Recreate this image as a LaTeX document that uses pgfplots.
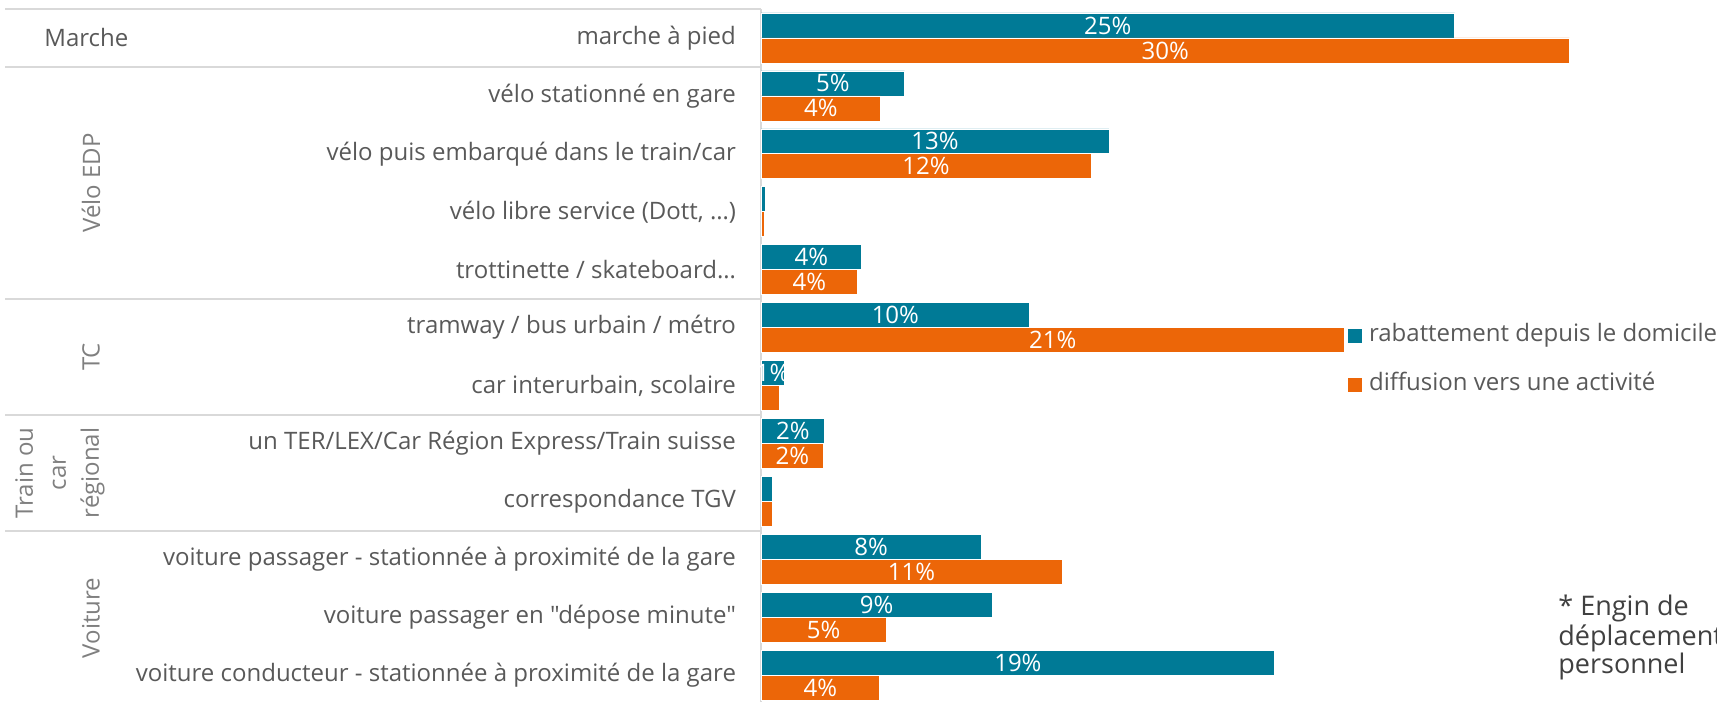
\documentclass[border=0pt]{standalone}
\usepackage{pgfplots}
\pgfplotsset{compat=1.18}
\usepackage{pgfplotstable}
\usepackage{fontspec}
\setmainfont[Ligatures=TeXOff]{Open Sans}
\definecolor{tealc}{RGB}{0,122,150}
\definecolor{orangec}{RGB}{236,102,8}
\definecolor{labgray}{RGB}{89,89,89}
\definecolor{grpgray}{RGB}{127,127,127}
\definecolor{linegray}{RGB}{217,217,217}
\definecolor{notegray}{RGB}{64,64,64}
\newcommand\fs{\fontsize{12pt}{14.5pt}\selectfont}
\newcommand\fn{\fontsize{13.5pt}{15pt}\selectfont}

% rabattement depuis le domicile
\pgfplotstableread{
y v lab
11 25.5 25\%
10 5.28 5\%
9 12.79 13\%
8 0.15 {}
7 3.70 4\%
6 9.88 10\%
5 0.86 1\%
4 2.34 2\%
3 0.41 {}
2 8.09 8\%
1 8.51 9\%
0 18.89 19\%
}\tealdata

% diffusion vers une activite
\pgfplotstableread{
y v lab
11 29.72 30\%
10 4.40 4\%
9 12.14 12\%
8 0.13 {}
7 3.55 4\%
6 21.45 21\%
5 0.66 {}
4 2.30 2\%
3 0.41 {}
2 11.07 11\%
1 4.61 5\%
0 4.36 4\%
}\orangedata

\begin{document}
\begin{tikzpicture}
\useasboundingbox (0,0) rectangle (858.5pt,-350.5pt);
% group separators
\foreach \yy in {4.5,33.5,149.5,207.5,265.5}{
  \draw[linegray, line width=1pt] (2.5pt,-\yy pt) -- (380.5pt,-\yy pt);
}
\begin{axis}[
  at={(380.5pt,-4.5pt)}, anchor=north west,
  scale only axis, width=478pt, height=347.5pt,
  xmin=0, xmax=35.15, ymin=-0.5, ymax=11.5,
  axis x line=none, axis y line*=left,
  y axis line style={linegray, line width=1pt, -},
  ytick={0,...,11},
  yticklabels={
    voiture conducteur - stationnée à proximité de la gare,
    voiture passager en "dépose minute",
    voiture passager - stationnée à proximité de la gare,
    correspondance TGV,
    un TER/LEX/Car Région Express/Train suisse,
    {car interurbain, scolaire},
    tramway / bus urbain / métro,
    trottinette / skateboard…,
    {vélo libre service (Dott, …)},
    vélo puis embarqué dans le train/car,
    vélo stationné en gare,
    marche à pied},
  major tick length=0pt,
  yticklabel style={font=\fs, text=labgray, anchor=east, xshift=-9pt},
  legend style={at={(axis description cs:0.613,0.548)}, anchor=north west,
    draw=none, fill=none, inner sep=0pt, row sep=12.5pt,
    font=\fs, text=labgray,
    nodes={inner sep=0pt, text height=9pt, text depth=3pt}},
  legend cell align=left,
  legend image code/.code={\fill[#1] (0pt,-3.75pt) rectangle (7.5pt,3.75pt);},
]
\addplot[xbar, bar width=0.431, bar shift=0.2155, fill=tealc, draw=white, line width=0.3pt]
  table[x=v, y=y]{\tealdata};
\addlegendentry{\hspace{3pt}rabattement depuis le domicile}
\addplot[xbar, bar width=0.431, bar shift=-0.2155, fill=orangec, draw=white, line width=0.3pt]
  table[x=v, y=y]{\orangedata};
\addlegendentry{\hspace{3pt}diffusion vers une activité}
\addplot[draw=none, mark=none, forget plot, nodes near coords, point meta=explicit symbolic,
  every node near coord/.append style={anchor=center, text=white, font=\fs}]
  table[x expr=\thisrow{v}/2, y expr=\thisrow{y}+0.2155, meta=lab]{\tealdata};
\addplot[draw=none, mark=none, forget plot, nodes near coords, point meta=explicit symbolic,
  every node near coord/.append style={anchor=center, text=white, font=\fs}]
  table[x expr=\thisrow{v}/2, y expr=\thisrow{y}-0.2155, meta=lab]{\orangedata};
\end{axis}
% group labels
\node[font=\fs, text=labgray, anchor=west, inner sep=0pt] at (22pt,-19pt) {Marche};
\node[font=\fs, text=grpgray, rotate=90] at (45.5pt,-91.5pt) {Vélo EDP};
\node[font=\fs, text=grpgray, rotate=90] at (45.5pt,-178.5pt) {TC};
\node[font=\fs, text=grpgray, rotate=90, align=center, inner sep=0pt,
  execute at begin node={\baselineskip=16.5pt}] at (30pt,-236.5pt) {Train ou\\car\\régional};
\node[font=\fs, text=grpgray, rotate=90] at (45.5pt,-309pt) {Voiture};
% footnote
\node[font=\fn, text=notegray, anchor=base west, inner sep=0pt] at (779pt,-307.5pt) {* Engin de};
\node[font=\fn, text=notegray, anchor=base west, inner sep=0pt] at (779pt,-322.5pt) {déplacement};
\node[font=\fn, text=notegray, anchor=base west, inner sep=0pt] at (779pt,-336.5pt) {personnel};
\end{tikzpicture}
\end{document}
